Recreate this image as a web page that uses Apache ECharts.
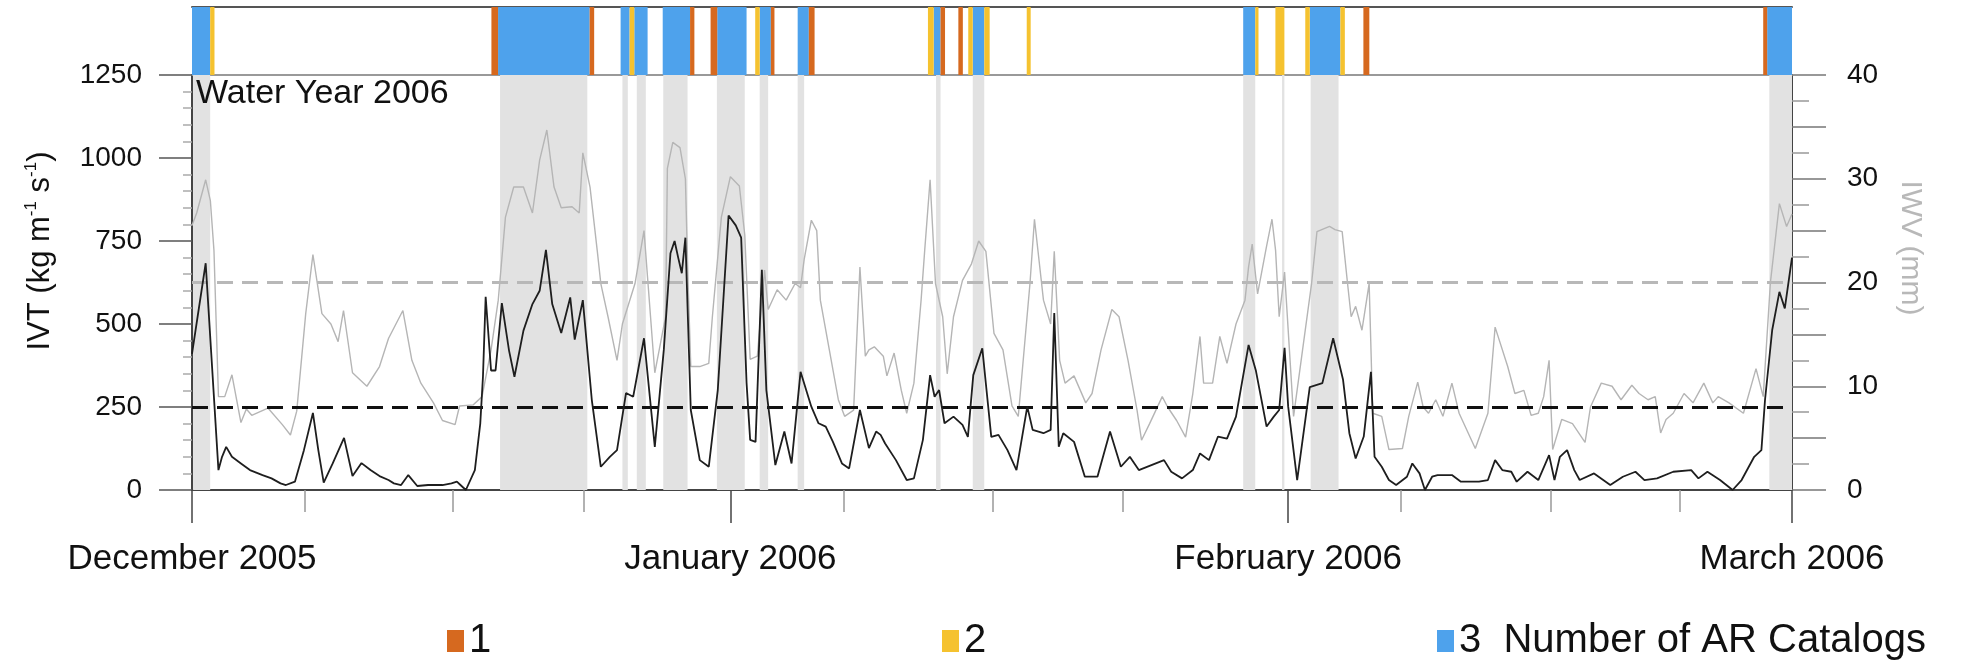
<!DOCTYPE html>
<html><head><meta charset="utf-8">
<script src="https://cdn.jsdelivr.net/npm/echarts@6/dist/echarts.min.js"></script>
<style>html,body{margin:0;padding:0;background:#fff}#c{width:1965px;height:670px}</style>
</head><body><div id="c"></div>
<script>
// x axis: days since 1 Dec 2005 00Z
const xMin = 1.08, xMax = 90;
const monthTickDays = [1.08, 31, 62, 90];
const monthTickLabels = ['December 2005', 'January 2006', 'February 2006', 'March 2006'];
const minorTickDays = [7.32, 15.55, 22.83, 37.29, 45.57, 52.8, 68.26, 76.6, 83.75];

// IVT (kg m-1 s-1), black line
const ivtDays = [1.08,1.84,2.55,2.75,2.98,3.3,3.8,4.3,5.0,5.5,6.0,6.3,6.8,7.3,7.8,8.1,8.4,8.9,9.53,10.0,10.5,11.0,11.5,12.0,12.3,12.7,13.1,13.6,14.2,15.0,15.5,15.8,16.0,16.3,16.8,17.1,17.25,17.4,17.7,17.95,18.3,18.7,19.0,19.5,20.0,20.4,20.75,21.1,21.6,22.1,22.35,22.8,23.3,23.8,24.3,24.7,25.2,25.6,26.2,26.8,27.3,27.67,27.9,28.1,28.3,28.5,28.8,29.3,29.8,30.3,30.9,31.3,31.6,31.9,32.1,32.4,32.75,33.0,33.5,34.0,34.4,34.9,35.5,35.9,36.3,36.7,37.2,37.6,38.2,38.7,39.1,39.35,39.6,40.2,40.8,41.2,41.7,42.1,42.35,42.6,42.9,43.4,43.9,44.2,44.5,45.0,45.5,45.9,46.4,46.9,47.5,47.8,48.4,48.8,49.0,49.25,49.5,50.1,50.7,51.4,52.1,52.7,53.2,53.7,54.4,55.1,55.5,56.1,56.7,57.1,57.6,58.1,58.6,59.1,59.8,60.2,60.8,61.2,61.5,61.8,62.0,62.5,62.8,63.2,63.9,64.5,65.05,65.4,65.75,66.2,66.6,66.8,67.2,67.6,68.0,68.6,68.9,69.3,69.6,70.0,70.3,71.1,71.6,72.6,73.1,73.5,73.9,74.4,74.7,75.3,75.9,76.5,76.8,77.1,77.5,77.9,78.2,79.0,79.9,80.6,81.3,81.8,82.5,83.4,84.4,84.8,85.3,86.0,86.7,87.2,87.9,88.3,88.5,88.9,89.3,89.6,90.0];
const ivtValues = [410,683,60,100,130,100,80,60,45,35,20,15,25,120,232,120,22,80,157,42,81,60,42,30,20,15,45,12,15,15,20,25,15,0,60,200,341,582,360,360,563,420,341,480,560,600,723,560,473,580,453,572,271,70,100,120,292,281,457,130,422,713,750,700,653,760,241,90,70,301,827,797,760,322,151,145,663,301,75,176,80,356,251,201,191,145,80,65,241,126,176,166,140,90,30,35,151,346,281,301,201,221,196,160,346,427,160,166,120,60,251,181,171,181,533,130,171,145,40,40,176,70,100,60,75,90,55,35,60,110,90,161,155,221,437,361,191,221,241,428,251,30,150,310,322,457,332,171,95,161,356,100,70,30,15,40,80,50,0,40,45,45,25,25,30,90,60,55,25,55,30,105,30,100,120,60,30,50,15,40,55,30,35,55,60,35,55,30,0,30,100,120,271,482,597,547,700];

// IWV (mm), grey line
const iwvDays = [1.08,1.34,1.84,2.1,2.3,2.55,2.9,3.3,3.8,4.1,4.4,5.3,6.1,6.55,6.9,7.4,7.8,8.3,8.8,9.2,9.5,10.0,10.8,11.5,12.0,12.8,13.3,13.8,14.5,15.0,15.7,15.95,16.7,17.2,17.7,18.1,18.5,18.96,19.5,20.0,20.4,20.8,21.2,21.6,22.2,22.6,22.8,23.2,23.6,23.8,24.2,24.7,25.0,25.7,26.2,26.8,27.4,27.5,27.8,28.2,28.5,28.65,28.8,29.3,29.8,30.0,30.5,31.0,31.5,31.8,32.1,32.5,32.9,33.1,33.6,34.1,34.6,34.9,35.1,35.5,35.8,36.0,36.5,37.0,37.35,37.85,38.2,38.5,38.7,39.0,39.5,39.7,40.1,40.5,40.8,41.2,41.6,41.8,42.1,42.4,42.8,43.05,43.4,43.9,44.4,44.8,45.2,45.65,46.15,46.65,47.0,47.65,47.9,48.4,48.8,49.0,49.3,49.6,50.1,50.75,51.1,51.6,52.2,52.6,53.1,53.6,53.85,54.3,55.0,55.3,55.8,56.3,56.7,57.1,57.3,57.8,58.2,58.6,59.1,59.6,59.8,60.0,60.3,60.8,61.1,61.3,61.5,61.8,62.3,62.8,63.3,63.6,64.3,64.6,65.0,65.3,65.5,65.75,66.1,66.5,66.7,67.2,67.6,68.35,68.7,69.2,69.5,69.8,70.2,70.6,71.1,71.5,72.4,73.1,73.5,74.2,74.6,75.1,75.5,75.9,76.2,76.5,76.7,77.2,77.8,78.5,78.8,79.4,80.0,80.5,81.1,81.5,82.0,82.4,82.7,83.0,83.4,84.0,84.5,85.1,85.6,85.9,86.5,87.3,88.0,88.4,88.8,89.3,89.7,90.0];
const iwvValues = [25.5,26.7,29.9,27.9,23.1,9.0,9.0,11.1,6.5,7.8,7.2,7.9,6.3,5.3,7.6,17.0,22.7,17.0,16.0,14.3,17.3,11.3,10.0,11.9,14.6,17.3,12.5,10.3,8.4,6.7,6.3,8.1,8.2,9.0,13.5,18.3,26.3,29.2,29.2,26.7,31.8,34.7,29.2,27.2,27.3,26.7,32.5,29.2,23.1,19.9,16.7,12.5,16.0,19.9,25.0,11.3,16.7,31.0,33.5,33.0,30.0,20.0,11.9,11.9,12.2,16.7,26.3,30.2,29.3,24.6,12.6,12.9,21.2,17.4,19.3,18.3,19.9,19.5,22.2,26.0,25.0,18.3,13.5,8.7,7.1,7.7,21.5,12.9,13.5,13.8,12.9,11.0,13.2,9.6,7.4,10.3,18.3,23.1,29.9,19.9,16.7,11.2,16.7,20.2,21.8,24.0,23.0,15.1,13.5,8.1,7.1,19.9,26.1,18.3,16.0,23.0,12.5,10.3,11.0,8.4,9.3,13.5,17.4,16.7,12.5,7.7,4.8,6.4,9.0,8.0,6.7,5.1,9.3,14.8,10.3,10.3,14.8,12.2,16.0,18.3,21.5,23.7,18.9,23.5,26.1,23.1,16.7,21.0,7.1,13.5,19.9,24.9,25.4,25.1,24.9,19.9,16.7,17.7,15.4,19.9,7.4,7.1,3.9,4.0,7.1,10.4,8.0,7.4,8.7,7.1,10.3,7.4,4.0,7.4,15.7,11.9,9.3,9.6,7.2,7.4,9.0,12.5,3.9,6.8,6.4,4.6,8.0,10.3,10.0,8.7,10.1,9.3,8.7,9.0,5.5,6.8,7.4,9.3,8.4,10.3,8.4,9.0,8.4,7.4,11.7,9.0,20.0,27.6,25.4,26.6];

// AR periods by number of catalogs [start day, end day]
const ar1Spans = [[17.72,18.09],[23.18,23.43],[28.76,29.0],[29.9,30.27],[33.25,33.45],[35.36,35.68],[42.68,42.93],[43.67,43.92],[66.18,66.51],[88.4,88.62]];
const ar2Spans = [[2.09,2.33],[25.4,25.66],[32.38,32.63],[41.98,42.3],[44.22,44.47],[45.11,45.41],[47.47,47.69],[60.17,60.35],[61.29,61.79],[62.95,63.2],[64.9,65.15]];
const ar3Spans = [[1.08,2.09],[18.09,23.18],[24.9,25.4],[25.66,26.4],[27.24,28.76],[30.27,31.9],[32.63,33.25],[34.74,35.36],[42.3,42.68],[44.47,45.11],[59.5,60.17],[63.2,64.9],[88.62,90]];
// shaded periods in the main panel
const shadeSpans = [[1.14,2.09],[18.2,23.05],[25.0,25.3],[25.8,26.3],[27.27,28.62],[30.25,31.8],[32.63,33.1],[34.74,35.1],[42.43,42.68],[44.47,45.11],[59.5,60.17],[61.66,61.79],[63.25,64.8],[88.74,90]];

const ivtThreshold = 250;   // kg m-1 s-1
const iwvThreshold = 20;    // mm

const FONT = '"Liberation Sans", Arial, Helvetica, sans-serif';
const chart = echarts.init(document.getElementById('c'), null, {renderer: 'canvas'});

function pairs(xs, ys) { return xs.map((x, i) => [x, ys[i]]); }

function stripRender(params, api) {
  const a = api.coord([api.value(0), 1]);
  const b = api.coord([api.value(1), 0]);
  return {type: 'rect', shape: {x: a[0], y: a[1], width: b[0] - a[0], height: b[1] - a[1]},
    style: {fill: api.visual('color')}};
}
function shadeRender(params, api) {
  const a = api.coord([api.value(0), 1250]);
  const b = api.coord([api.value(1), 0]);
  return {type: 'rect', shape: {x: a[0], y: a[1], width: b[0] - a[0], height: b[1] - a[1]},
    style: {fill: '#e2e2e2'}};
}

const hiddenX = {type: 'value', min: xMin, max: xMax, axisTick: {show: false}, axisLabel: {show: false}, splitLine: {show: false}};
const legendBase = {padding: 0, itemWidth: 17, itemHeight: 22, icon: 'rect', selectedMode: false,
  textStyle: {fontSize: 40, color: '#111', fontFamily: FONT}};

chart.setOption({
  animation: false,
  backgroundColor: '#fff',
  textStyle: {fontFamily: FONT},
  grid: [
    {left: 192, width: 1600, top: 7, height: 68},
    {left: 192, width: 1600, top: 75, height: 415}
  ],
  xAxis: [
    Object.assign({}, hiddenX, {gridIndex: 0, position: 'top', axisLine: {show: true, onZero: false, lineStyle: {color: '#555', width: 2}}}),
    Object.assign({}, hiddenX, {gridIndex: 0, position: 'bottom', axisLine: {show: true, onZero: false, lineStyle: {color: '#999', width: 2}}}),
    {gridIndex: 1, type: 'value', min: xMin, max: xMax, position: 'bottom',
      axisLine: {show: true, onZero: false, lineStyle: {color: '#444', width: 2}},
      axisTick: {show: true, customValues: monthTickDays, length: 33, lineStyle: {color: '#444', width: 1.5}},
      axisLabel: {show: true, customValues: monthTickDays, margin: 52, fontSize: 35, color: '#111',
        formatter: v => { const i = monthTickDays.findIndex(d => Math.abs(d - v) < 0.01); return i >= 0 ? monthTickLabels[i] : ''; }},
      splitLine: {show: false}},
    {gridIndex: 1, type: 'value', min: xMin, max: xMax, position: 'bottom',
      axisLine: {show: false, onZero: false},
      axisTick: {show: true, customValues: minorTickDays, length: 22, lineStyle: {color: '#999', width: 1.5}},
      axisLabel: {show: false}, splitLine: {show: false}}
  ],
  yAxis: [
    {gridIndex: 0, type: 'value', min: 0, max: 1, show: false},
    {gridIndex: 1, type: 'value', min: 0, max: 1250, interval: 250, position: 'left',
      axisLine: {show: true, onZero: false, lineStyle: {color: '#444', width: 2}},
      axisTick: {show: true, length: 33, lineStyle: {color: '#555', width: 1.5}},
      minorTick: {show: true, splitNumber: 5, length: 9, lineStyle: {color: '#aaa', width: 1.5}},
      axisLabel: {fontSize: 28, color: '#111', margin: 50, formatter: v => String(v)}, splitLine: {show: false}},
    {gridIndex: 1, type: 'value', min: 0, max: 40, interval: 5, position: 'right',
      axisLine: {show: true, onZero: false, lineStyle: {color: '#444', width: 2}},
      axisTick: {show: true, length: 34, lineStyle: {color: '#777', width: 1.5}},
      minorTick: {show: true, splitNumber: 2, length: 17, lineStyle: {color: '#999', width: 1.5}},
      axisLabel: {fontSize: 28, color: '#111', margin: 55, formatter: v => (v % 10 === 0 ? String(v) : '')},
      splitLine: {show: false}}
  ],
  legend: [
    Object.assign({}, legendBase, {data: ['1'], left: 447, top: 621}),
    Object.assign({}, legendBase, {data: ['2'], left: 942, top: 621}),
    Object.assign({}, legendBase, {data: ['3'], left: 1437, top: 621, formatter: n => n + '  Number of AR Catalogs'})
  ],
  graphic: [
    {type: 'text', x: 196, y: 94, z: 100,
      style: {text: 'Water Year 2006', font: '34px ' + FONT, fill: '#111', align: 'left', verticalAlign: 'middle', textAlign: 'left', textVerticalAlign: 'middle'}},
    {type: 'text', x: 40, y: 251, rotation: Math.PI / 2, z: 100,
      style: {text: '{n|IVT (kg m}{s|-1}{n| s}{s|-1}{n|)}', align: 'center', verticalAlign: 'middle', textAlign: 'center', textVerticalAlign: 'middle',
        rich: {n: {fontSize: 31, fontFamily: FONT, fill: '#111', color: '#111', lineHeight: 34},
               s: {fontSize: 17, fontFamily: FONT, fill: '#111', color: '#111', lineHeight: 16, verticalAlign: 'top'}}}},
    {type: 'text', x: 1910, y: 248, rotation: -Math.PI / 2, z: 100,
      style: {text: 'IWV (mm)', font: '30px ' + FONT, fill: '#b8b8b8', align: 'center', verticalAlign: 'middle', textAlign: 'center', textVerticalAlign: 'middle'}}
  ],
  series: [
    {type: 'custom', name: 'shade', xAxisIndex: 2, yAxisIndex: 1, renderItem: shadeRender, data: shadeSpans, z: 1, silent: true, clip: true},
    {type: 'custom', name: '1', xAxisIndex: 0, yAxisIndex: 0, renderItem: stripRender, data: ar1Spans, itemStyle: {color: '#d6691f'}, z: 3, clip: true},
    {type: 'custom', name: '2', xAxisIndex: 0, yAxisIndex: 0, renderItem: stripRender, data: ar2Spans, itemStyle: {color: '#f5c22f'}, z: 3, clip: true},
    {type: 'custom', name: '3', xAxisIndex: 0, yAxisIndex: 0, renderItem: stripRender, data: ar3Spans, itemStyle: {color: '#4ea2ec'}, z: 2, clip: true},
    {type: 'line', name: 'IWV', xAxisIndex: 2, yAxisIndex: 2, data: pairs(iwvDays, iwvValues), showSymbol: false, symbol: 'none',
      lineStyle: {color: '#b5b5b5', width: 1.4}, itemStyle: {color: '#b5b5b5'}, z: 4,
      markLine: {silent: true, symbol: 'none', label: {show: false}, lineStyle: {color: '#b8b8b8', type: [16, 9], width: 3}, data: [{yAxis: iwvThreshold}]}},
    {type: 'line', name: 'IVT', xAxisIndex: 2, yAxisIndex: 1, data: pairs(ivtDays, ivtValues), showSymbol: false, symbol: 'none',
      lineStyle: {color: '#1e1e1e', width: 1.8}, itemStyle: {color: '#1e1e1e'}, z: 5,
      markLine: {silent: true, symbol: 'none', label: {show: false}, lineStyle: {color: '#111', type: [16, 9], width: 3}, data: [{yAxis: ivtThreshold}]}}
  ]
});
</script>
</body></html>
